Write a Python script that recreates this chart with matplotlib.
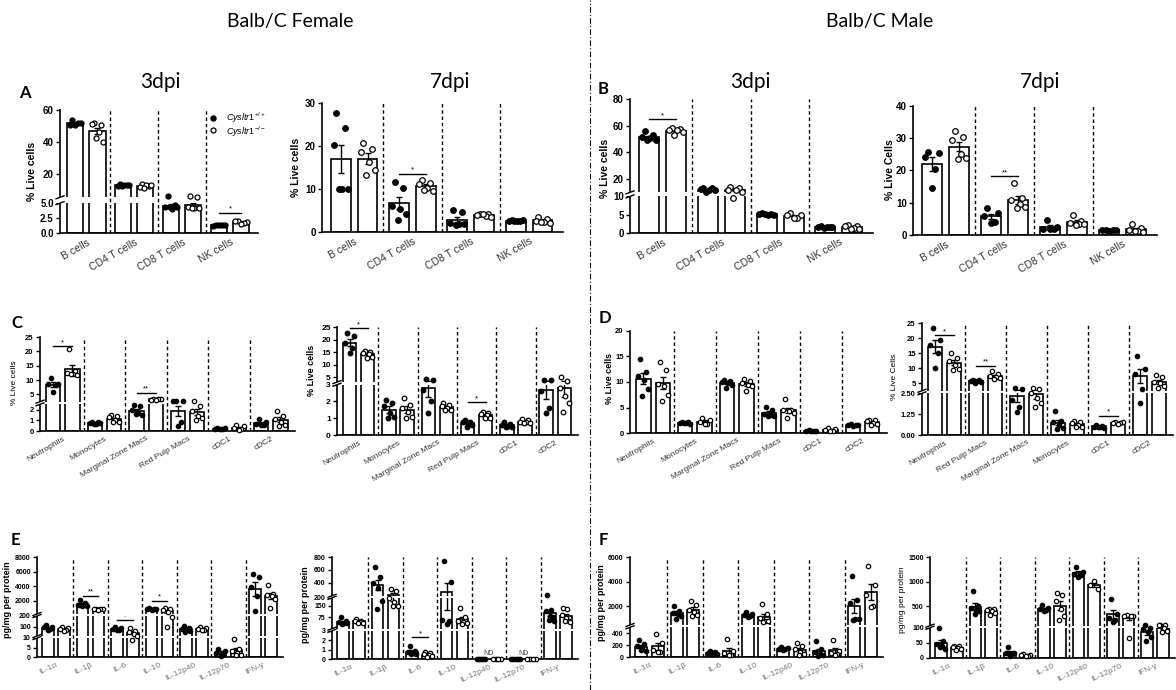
import numpy as np
import matplotlib
matplotlib.use("Agg")
import matplotlib.pyplot as plt
from matplotlib.patches import Rectangle
from matplotlib.lines import Line2D

plt.rcParams['font.family'] = ['Liberation Sans', 'DejaVu Sans']
plt.rcParams['mathtext.fontset'] = 'custom'
plt.rcParams['mathtext.it'] = 'Liberation Sans:italic'
plt.rcParams['mathtext.rm'] = 'Liberation Sans'

# ---- data (WT = Cysltr1+/+, KO = Cysltr1-/-), one list of points per category ----
t_cats = ["B cells", "CD4 T cells", "CD8 T cells", "NK cells"]
c_cats = ["Neutrophils", "Monocytes", "Marginal Zone Macs", "Red Pulp Macs", "cDC1", "cDC2"]
d7_cats = ["Neutrophils", "Red Pulp Macs", "Marginal Zone Macs", "Monocytes", "cDC1", "cDC2"]
il_cats = ["IL-1α", "IL-1β", "IL-6", "IL-10", "IL-12p40", "IL-12p70", "IFN-γ"]

a3_wt = [[53.5, 51.5, 50.5, 52.0, 50.5], [13.5, 12.5, 12.0, 13.0, 12.5, 12.0],
         [5.6, 4.7, 4.4, 4.0, 4.4, 4.3], [1.4, 1.3, 1.2, 1.3, 1.35]]
a3_ko = [[51.5, 50.5, 51.0, 46.0, 40.0, 42.5], [13.5, 12.0, 11.5, 13.0, 12.5, 11.0],
         [5.8, 5.4, 4.3, 4.2, 4.1, 4.2], [2.0, 1.9, 2.0, 1.7, 1.5]]
a3_sig = [(3, 3.4, "*")]

a7_wt = [[27.7, 24.3, 20.2, 10.0, 10.0, 10.0], [11.7, 10.3, 6.0, 5.3, 4.2, 2.8],
         [5.1, 4.6, 2.2, 1.8, 1.9, 1.6], [2.7, 2.6, 2.6, 2.6, 2.7, 2.6]]
a7_ko = [[20.6, 19.4, 18.7, 16.2, 14.4, 13.2], [12.1, 11.5, 11.2, 10.3, 9.6, 9.7],
         [4.3, 4.2, 4.0, 3.8, 3.5, 4.1], [3.6, 3.0, 2.6, 2.4, 2.2, 2.3]]
a7_sig = [(1, 13.6, "*")]

b3_wt = [[56.0, 53.0, 51.5, 50.5, 49.5, 49.0], [13.2, 13.0, 12.5, 12.0, 11.5, 10.5],
         [5.5, 5.3, 5.2, 5.0, 4.8, 5.1], [1.8, 1.7, 1.6, 1.6, 1.7, 1.5]]
b3_ko = [[58.0, 57.5, 57.0, 56.5, 55.5, 53.0], [14.0, 13.0, 12.0, 11.5, 10.5, 9.5],
         [5.5, 5.0, 4.8, 4.2, 4.0], [2.2, 2.0, 1.8, 1.5, 1.2, 1.0]]
b3_sig = [(0, 65, "*")]

b7_wt = [[25.7, 25.5, 24.3, 20.5, 14.5], [8.3, 6.9, 5.8, 4.0, 3.7],
         [4.8, 2.5, 2.0, 2.0, 1.8], [1.6, 1.5, 1.4, 1.5, 1.3]]
b7_ko = [[32.3, 30.3, 29.5, 25.2, 23.8, 23.5], [16.0, 11.6, 10.8, 9.7, 8.7, 8.4],
         [6.3, 4.2, 3.8, 3.5, 3.3, 3.0], [3.3, 2.3, 1.5, 1.2, 1.0, 1.1]]
b7_sig = [(1, 18.2, "**")]

c3_wt = [[10.8, 8.8, 8.6, 8.3, 5.7], [0.85, 0.8, 0.75, 0.7, 0.75, 0.7], [2.4, 2.3, 2.0, 1.7, 1.5, 1.6],
         [2.7, 2.7, 2.7, 0.8, 0.5], [0.3, 0.25, 0.2, 0.2, 0.15], [1.1, 0.8, 0.7, 0.6, 0.6]]
c3_ko = [[20.7, 13.0, 12.6, 12.2, 11.8, 12.3], [1.5, 1.4, 1.3, 1.0, 0.8, 0.8], [3.4, 3.3, 3.2, 3.3, 3.2],
         [2.9, 2.3, 1.9, 1.4, 1.2, 1.0], [0.55, 0.45, 0.3, 0.2, 0.1], [1.9, 1.4, 1.1, 0.8, 0.6, 0.5]]
c3_sig = [(0, 21.8, "*"), (2, 5.6, "**")]

c7_wt = [[22.5, 21.5, 18.7, 16.5, 14.5], [2.1, 1.9, 1.7, 1.3, 1.1, 1.0], [4.2, 3.8, 2.7, 2.0, 1.3],
         [0.9, 0.8, 0.75, 0.7, 0.6, 0.5], [0.75, 0.65, 0.6, 0.55, 0.5, 0.5], [4.0, 3.9, 2.6, 1.6, 1.3]]
c7_ko = [[15.6, 15.2, 14.6, 14.3, 12.9, 12.5], [2.2, 1.8, 1.6, 1.4, 1.1, 1.0], [1.9, 1.8, 1.7, 1.6, 1.5, 1.5],
         [1.4, 1.3, 1.25, 1.2, 1.0, 1.0], [0.95, 0.9, 0.8, 0.75, 0.7, 0.7], [5.0, 3.5, 2.8, 2.3, 1.9, 1.4]]
c7_sig = [(0, 24.6, "*"), (3, 1.95, "*")]

d3_wt = [[14.5, 12.0, 11.2, 10.3, 8.6, 7.2], [2.2, 2.1, 2.0, 1.9, 1.8, 2.0], [10.4, 10.2, 10.0, 9.8, 9.5, 8.8],
         [5.1, 4.5, 3.8, 3.5, 3.3, 3.3], [0.5, 0.4, 0.4, 0.35, 0.4], [1.7, 1.6, 1.5, 1.5, 1.4]]
d3_ko = [[14.0, 12.3, 9.6, 9.2, 7.4, 6.3], [3.0, 2.5, 2.1, 1.8, 1.7], [10.5, 10.2, 9.8, 9.5, 9.3, 8.3],
         [6.6, 4.6, 4.5, 4.4, 4.0, 2.9], [1.0, 0.7, 0.5, 0.4, 0.3], [2.6, 2.5, 2.3, 1.9, 1.7, 1.6]]

d7_wt = [[23.4, 19.2, 17.8, 15.0, 10.2], [6.2, 6.0, 5.8, 5.6, 5.4, 5.2], [3.3, 3.2, 2.1, 1.7, 1.4],
         [1.45, 0.85, 0.8, 0.6, 0.4, 0.35], [0.6, 0.55, 0.5, 0.5, 0.45, 0.5], [14.2, 9.8, 8.0, 3.0, 1.9]]
d7_ko = [[15.0, 13.4, 12.3, 11.2, 9.8, 9.3], [9.0, 8.0, 7.5, 7.2, 6.8, 6.5], [3.5, 3.0, 2.5, 2.2, 1.9, 1.7],
         [0.85, 0.8, 0.7, 0.6, 0.5, 0.5], [0.8, 0.8, 0.75, 0.7, 0.65], [7.8, 7.0, 5.5, 5.0, 4.0, 3.5]]
d7_sig = [(0, 21.0, "*"), (1, 10.8, "**"), (4, 1.15, "*")]

e3_wt = [[110, 100, 95, 80, 65], [2100, 1700, 1500, 1400, 1350, 1300], [100, 85, 75, 70, 65],
         [1050, 950, 900, 850, 800], [105, 90, 75, 65, 55, 50], [4.3, 3.0, 2.2, 1.5, 0.5],
         [5700, 5300, 3900, 2700, 650]]
e3_ko = [[95, 85, 75, 65, 55], [900, 880, 850, 830, 800], [90, 60, 50, 30, 14, 9],
         [1000, 900, 700, 450, 190, 100], [95, 85, 75, 70, 65], [9.5, 4.3, 3.2, 2.0, 1.2, 0.8],
         [4200, 3000, 2800, 2600, 2300, 1000]]
e3_sig = [(1, 2680, "**"), (2, 163, "*"), (3, 2000, "*")]

e7_wt = [[75, 50, 45, 40, 38, 35], [650, 490, 400, 320, 180, 130], [1.4, 0.85, 0.75, 0.65, 0.55, 0.5],
         [740, 420, 60, 50, 35], [0, 0, 0, 0, 0], [0, 0, 0, 0, 0], [210, 125, 115, 85, 75, 60, 55]]
e7_ko = [[65, 55, 50, 45, 40, 40], [310, 280, 200, 175, 145, 150], [0.7, 0.6, 0.5, 0.4, 0.3, 0.2],
         [135, 75, 55, 45, 40, 35], [0, 0, 0, 0], [0, 0, 0, 0], [135, 130, 90, 70, 55, 50, 45]]
e7_sig = [(2, 2.3, "*")]
e7_nd = [4, 5]

f3_wt = [[280, 220, 180, 140, 100, 110], [2050, 1650, 1500, 1350, 1200, 1000], [95, 85, 70, 60, 50, 45],
         [1550, 1400, 1300, 1200, 1150], [170, 150, 140, 130, 110], [275, 140, 80, 50, 30, 20],
         [4500, 2500, 2300, 1000, 950, 900]]
f3_ko = [[380, 230, 120, 90, 80], [2450, 2150, 1700, 1550, 1300, 1200], [300, 100, 60, 40, 30],
         [2200, 1350, 1050, 850, 800, 750], [240, 190, 130, 80, 50, 30], [290, 100, 70, 50, 40],
         [5300, 3700, 2900, 2000, 1950]]

f7_wt = [[98, 55, 45, 40, 30, 35], [800, 500, 470, 420, 390, 340], [35, 18, 15, 12, 8],
         [530, 460, 430, 410, 400], [1300, 1200, 1150, 1130, 1100], [650, 330, 260, 220, 180],
         [105, 100, 95, 85, 70, 55]]
f7_ko = [[40, 38, 35, 33, 30, 25], [450, 430, 410, 390, 360, 320], [12, 10, 10, 8, 8],
         [760, 730, 600, 430, 300, 220], [1010, 930, 850], [310, 305, 300, 290, 67],
         [110, 108, 105, 100, 90, 85]]

W, H = 1176, 690
fig = plt.figure(figsize=(W / 100, H / 100), dpi=100)

# order in which points take the horizontal slots (scatter look, not a diagonal)
SLOTS = [1, 4, 0, 3, 5, 2, 6]


def box(l, t, r, b):
    return [l / W, 1 - b / H, (r - l) / W, (b - t) / H]


def make_scale(segs):
    # piecewise linear axis with gaps (broken axis), segs = (lo, hi, frac0, frac1)
    def fwd(y):
        y = np.asarray(y, dtype=float)
        lo, hi, f0, f1 = segs[0]
        out = f0 + (y - lo) * (f1 - f0) / (hi - lo)
        for lo, hi, f0, f1 in segs[1:]:
            out = np.where(y > lo, f0 + (y - lo) * (f1 - f0) / (hi - lo), out)
        return out

    def inv(p):
        p = np.asarray(p, dtype=float)
        lo, hi, f0, f1 = segs[0]
        out = lo + (p - f0) * (hi - lo) / (f1 - f0)
        for lo, hi, f0, f1 in segs[1:]:
            out = np.where(p > f0, lo + (p - f0) * (hi - lo) / (f1 - f0), out)
        return out
    return fwd, inv


def jitter(n):
    order = [k for k in SLOTS if k < n]
    return np.linspace(-0.12, 0.12, n)[order] if n > 1 else np.zeros(1)


def panel(px, cats, wt, ko, segs, yticks, ytl, sig=(), xfs=7.5, yfs=7, rot=30,
          ms=13, xcol="#333333"):
    l, t, r, b = px
    ax = fig.add_axes(box(*px))
    fwd, inv = make_scale(segs)
    ax.set_yscale("function", functions=(fwd, inv))
    n = len(cats)
    for i in range(n):
        for grp, off, filled in ((wt[i], -0.23, True), (ko[i], 0.23, False)):
            v = np.array(grp, dtype=float)
            m = v.mean()
            se = v.std(ddof=1) / np.sqrt(len(v))
            x = i + off
            ax.bar(x, m, width=0.34, facecolor="white", edgecolor="black", linewidth=1.2, zorder=2)
            ax.errorbar(x, m, yerr=se, color="black", lw=1, capsize=2.5, capthick=1, zorder=2.2)
            ax.scatter(x + jitter(len(v)), v, s=ms, facecolor="black" if filled else "white",
                       edgecolor="black", linewidth=0.9, zorder=4, clip_on=False)
    for i in range(n - 1):
        ax.axvline(i + 0.5, color="black", lw=1, ls=(0, (2.5, 2)), zorder=3.5)
    for i, y, lab in sig:
        ax.plot([i - 0.23, i + 0.23], [y, y], color="black", lw=1, zorder=4)
        ax.text(i, y, lab, ha="center", va="bottom", fontsize=5.5)
    ax.set_xlim(-0.55, n - 0.42)
    ax.set_ylim(segs[0][0], segs[-1][1])
    ax.set_yticks(yticks)
    ax.set_yticklabels(ytl, fontsize=yfs, fontweight="bold")
    ax.set_xticks(range(n))
    ax.set_xticklabels(cats, rotation=rot, ha="right", rotation_mode="anchor",
                       fontsize=xfs, color=xcol)
    ax.tick_params(axis="x", length=0, pad=3)
    ax.tick_params(axis="y", length=3, width=1, pad=1.5)
    for s in ("top", "right"):
        ax.spines[s].set_visible(False)
    for s in ("left", "bottom"):
        ax.spines[s].set_linewidth(1.2)
    # white gaps and break marks
    dx = 4.0 / (r - l)
    dy = 1.5 / (b - t)
    for k in range(len(segs) - 1):
        y0, y1 = segs[k][3], segs[k + 1][2]
        ax.add_patch(Rectangle((-dx, y0), 1 + dx, y1 - y0, transform=ax.transAxes,
                               facecolor="white", edgecolor="none", zorder=3, clip_on=False))
        for yy in (y0, y1):
            ax.plot([-dx, dx], [yy - dy, yy + dy], transform=ax.transAxes,
                    color="black", lw=1, clip_on=False, zorder=5)
    return ax


def ftext(x, y, s, **kw):
    fig.text(x / W, 1 - y / H, s, **kw)


# ---- row 1: T / B / NK cells ----
ax = panel((60, 110, 258, 233), t_cats, a3_wt, a3_ko,
           [(0, 5, 0, 0.243), (5, 60, 0.29, 1)],
           [0, 2.5, 5, 20, 40, 60], ["0.0", "2.5", "5.0", "20", "40", "60"], a3_sig)
ax.scatter([0.773], [0.935], s=13, color="black", transform=ax.transAxes, clip_on=False)
ax.scatter([0.773], [0.835], s=13, facecolor="white", edgecolor="black", linewidth=0.9,
           transform=ax.transAxes, clip_on=False)
ax.text(0.84, 0.935, r"$\mathit{Cysltr1}^{+/+}$", transform=ax.transAxes, fontsize=6.5, va="center")
ax.text(0.84, 0.825, r"$\mathit{Cysltr1}^{-/-}$", transform=ax.transAxes, fontsize=6.5, va="center")

panel((322, 103, 563, 232), t_cats, a7_wt, a7_ko, [(0, 30, 0, 1)],
      [0, 10, 20, 30], ["0", "10", "20", "30"], a7_sig, ms=16)
panel((630, 99, 873, 233), t_cats, b3_wt, b3_ko,
      [(0, 10, 0, 0.273), (10, 80, 0.303, 1)],
      [0, 5, 10, 20, 40, 60, 80], ["0", "5", "10", "20", "40", "60", "80"], b3_sig, ms=16)
panel((913, 106, 1157, 235), t_cats, b7_wt, b7_ko, [(0, 40, 0, 1)],
      [0, 10, 20, 30, 40], ["0", "10", "20", "30", "40"], b7_sig, ms=16)

# ---- row 2: myeloid cells ----
panel((40, 337, 295, 431), c_cats, c3_wt, c3_ko,
      [(0, 2.5, 0, 0.284), (2.5, 25, 0.312, 1)],
      [0, 1, 2, 5, 10, 15, 20, 25], ["0", "1", "2", "5", "10", "15", "20", "25"], c3_sig,
      xfs=6, yfs=5.5, ms=10)
panel((337, 327, 578, 435), c_cats, c7_wt, c7_ko,
      [(0, 3, 0, 0.466), (3, 25, 0.49, 1)],
      [0, 1, 2, 3, 5, 10, 15, 20, 25], ["0", "1", "2", "3", "5", "10", "15", "20", "25"], c7_sig,
      xfs=6, yfs=6, ms=11)
panel((630, 331, 887, 433), c_cats, d3_wt, d3_ko, [(0, 20, 0, 1)],
      [0, 5, 10, 15, 20], ["0", "5", "10", "15", "20"], (), xfs=6, yfs=5.5, ms=10)
panel((922, 323, 1173, 435), d7_cats, d7_wt, d7_ko,
      [(0, 2.5, 0, 0.372), (2.5, 25, 0.395, 1)],
      [0, 1.25, 2.5, 5, 10, 15, 20, 25], ["0.00", "1.25", "2.50", "5", "10", "15", "20", "25"],
      d7_sig, xfs=6, yfs=5.5, ms=10)

# ---- row 3: cytokines ----
ax = panel((37, 557, 283, 657), il_cats, e3_wt, e3_ko,
           [(0, 10, 0, 0.19), (10, 200, 0.21, 0.41), (200, 8000, 0.43, 1)],
           [0, 5, 10, 100, 200, 2000, 4000, 6000, 8000],
           ["0", "5", "10", "100", "200", "2000", "4000", "6000", "8000"], e3_sig,
           xfs=6, yfs=5, rot=25, ms=10, xcol="#777777")
ax = panel((332, 557, 578, 659), il_cats, e7_wt, e7_ko,
           [(0, 3, 0, 0.277), (3, 200, 0.297, 0.6), (200, 800, 0.62, 1)],
           [0, 1, 2, 3, 75, 150, 200, 400, 600, 800],
           ["0", "1", "2", "3", "75", "150", "200", "400", "600", "800"], e7_sig,
           xfs=6, yfs=5, rot=25, ms=10, xcol="#777777")
for i in e7_nd:
    ax.text(i, 0.25, "ND", ha="center", va="bottom", fontsize=5, color="#444444", zorder=5)
panel((630, 557, 883, 657), il_cats, f3_wt, f3_ko,
      [(0, 500, 0, 0.297), (500, 6000, 0.32, 1)],
      [0, 200, 400, 2000, 4000, 6000], ["0", "200", "400", "2000", "4000", "6000"], (),
      xfs=6, yfs=5, rot=25, ms=10, xcol="#777777")
panel((930, 557, 1175, 658), il_cats, f7_wt, f7_ko,
      [(0, 100, 0, 0.30), (100, 1500, 0.32, 1)],
      [0, 50, 100, 500, 1000, 1500], ["0", "50", "100", "500", "1000", "1500"], (),
      xfs=6, yfs=5, rot=25, ms=10, xcol="#777777")

# ---- y labels ----
ylab = [(32, 171, "% Live cells", 7.5, "bold"), (296, 167, "% Live cells", 7.5, "bold"),
        (605, 168, "% Live cells", 7.5, "bold"), (890, 170, "% Live Cells", 7.5, "bold"),
        (15, 383, "% Live cells", 6, "normal"), (312, 370, "% Live cells", 6.5, "bold"),
        (610, 378, "% Live cells", 6.5, "bold"), (895, 377, "% Live Cells", 6, "normal"),
        (8, 600, "pg/mg per protein", 6.5, "bold"), (305, 605, "pg/mg per protein", 6.5, "bold"),
        (601, 603, "pg/mg per protein", 6.5, "bold"), (903, 600, "pg/mg per protein", 6, "normal")]
for x, y, s, fs, fw in ylab:
    ftext(x, y, s, rotation=90, ha="center", va="center", fontsize=fs, fontweight=fw)

# ---- headings ----
ftext(290, 22, "Balb/C Female", ha="center", va="center", fontsize=14, family="Lato")
ftext(880, 22, "Balb/C Male", ha="center", va="center", fontsize=14, family="Lato")
for x, s in ((160, "3dpi"), (450, "7dpi"), (750, "3dpi"), (1040, "7dpi")):
    ftext(x, 82, s, ha="center", va="center", fontsize=15, family="Lato")
for x, y, s in ((25, 93, "A"), (603, 89, "B"), (17, 323, "C"), (605, 318, "D"),
                (15, 540, "E"), (603, 540, "F")):
    ftext(x, y, s, ha="center", va="center", fontsize=12, fontweight="bold", family="Lato")

fig.add_artist(Line2D([590 / W, 590 / W], [0, 1], transform=fig.transFigure,
                      color="black", lw=0.8, ls=(0, (5, 2, 1, 2))))

fig.savefig("out.png", dpi=100)
